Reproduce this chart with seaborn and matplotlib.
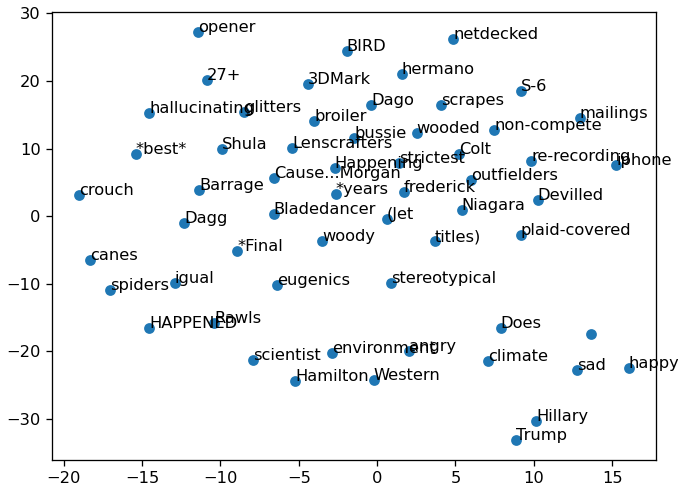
import matplotlib
matplotlib.use("Agg")
import matplotlib.pyplot as plt
import seaborn as sns
import pandas as pd

# word labels and their 2-D embedding coordinates
words = [
    "opener", "BIRD", "netdecked", "27+", "3DMark", "hermano", "S-6",
    "hallucinating", "glitters", "broiler", "Dago", "scrapes", "mailings",
    "*best*", "Shula", "Lenscrafters", "bussie", "wooded", "non-compete",
    "Colt", "Happening", "strictest", "re-recording", "iphone",
    "Cause...Morgan", "outfielders", "crouch", "Barrage", "*years",
    "frederick", "Devilled", "Bladedancer", "Niagara", "Dagg", "(Jet",
    "woody", "titles)", "plaid-covered", "canes", "*Final", "spiders",
    "igual", "eugenics", "stereotypical", "HAPPENED", "Rawls", "Does", "",
    "scientist", "environment", "angry", "climate", "sad", "happy",
    "Hamilton", "Western", "Hillary", "Trump",
]
x_vals = [
    -11.45, -1.93, 4.87, -10.89, -4.43, 1.56, 9.17,
    -14.54, -8.50, -4.02, -0.38, 4.06, 12.95,
    -15.41, -9.89, -5.43, -1.47, 2.52, 7.47,
    5.21, -2.70, 1.39, 9.84, 15.28,
    -6.60, 6.02, -19.00, -11.34, -2.64,
    1.71, 10.24, -6.60, 5.40, -12.30, 0.62,
    -3.49, 3.70, 9.17, -18.30, -8.93, -17.06,
    -12.92, -6.39, 0.86, -14.56, -10.40, 7.90, 13.65,
    -7.93, -2.87, 2.03, 7.11, 12.78, 16.05,
    -5.22, -0.23, 10.14, 8.88,
]
y_vals = [
    27.2, 24.5, 26.25, 20.1, 19.6, 21.0, 18.57,
    15.3, 15.4, 14.1, 16.5, 16.4, 14.5,
    9.2, 9.95, 10.1, 11.57, 12.26, 12.8,
    9.2, 7.07, 7.8, 8.1, 7.5,
    5.6, 5.3, 3.1, 3.84, 3.2,
    3.6, 2.36, 0.25, 0.93, -1.0, -0.5,
    -3.7, -3.7, -2.8, -6.55, -5.17, -10.93,
    -9.85, -10.2, -9.95, -16.6, -15.85, -16.5, -17.4,
    -21.3, -20.3, -20.0, -21.5, -22.75, -22.55,
    -24.4, -24.2, -30.3, -33.1,
]

df = pd.DataFrame({"word": words, "x": x_vals, "y": y_vals})

DPI = 117
fig = plt.figure(figsize=(678 / DPI, 488 / DPI), dpi=DPI)
ax = fig.add_axes([52 / 678, 28 / 488, 604 / 678, 448 / 488])

sns.scatterplot(data=df, x="x", y="y", ax=ax, color="#1f77b4",
                s=44, linewidth=0)

for _, row in df.iterrows():
    ax.annotate(row["word"], (row["x"], row["y"]))

ax.set_xlabel("")
ax.set_ylabel("")
ax.set_yticks([-30, -20, -10, 0, 10, 20, 30])

fig.savefig("out.png", dpi=DPI)
